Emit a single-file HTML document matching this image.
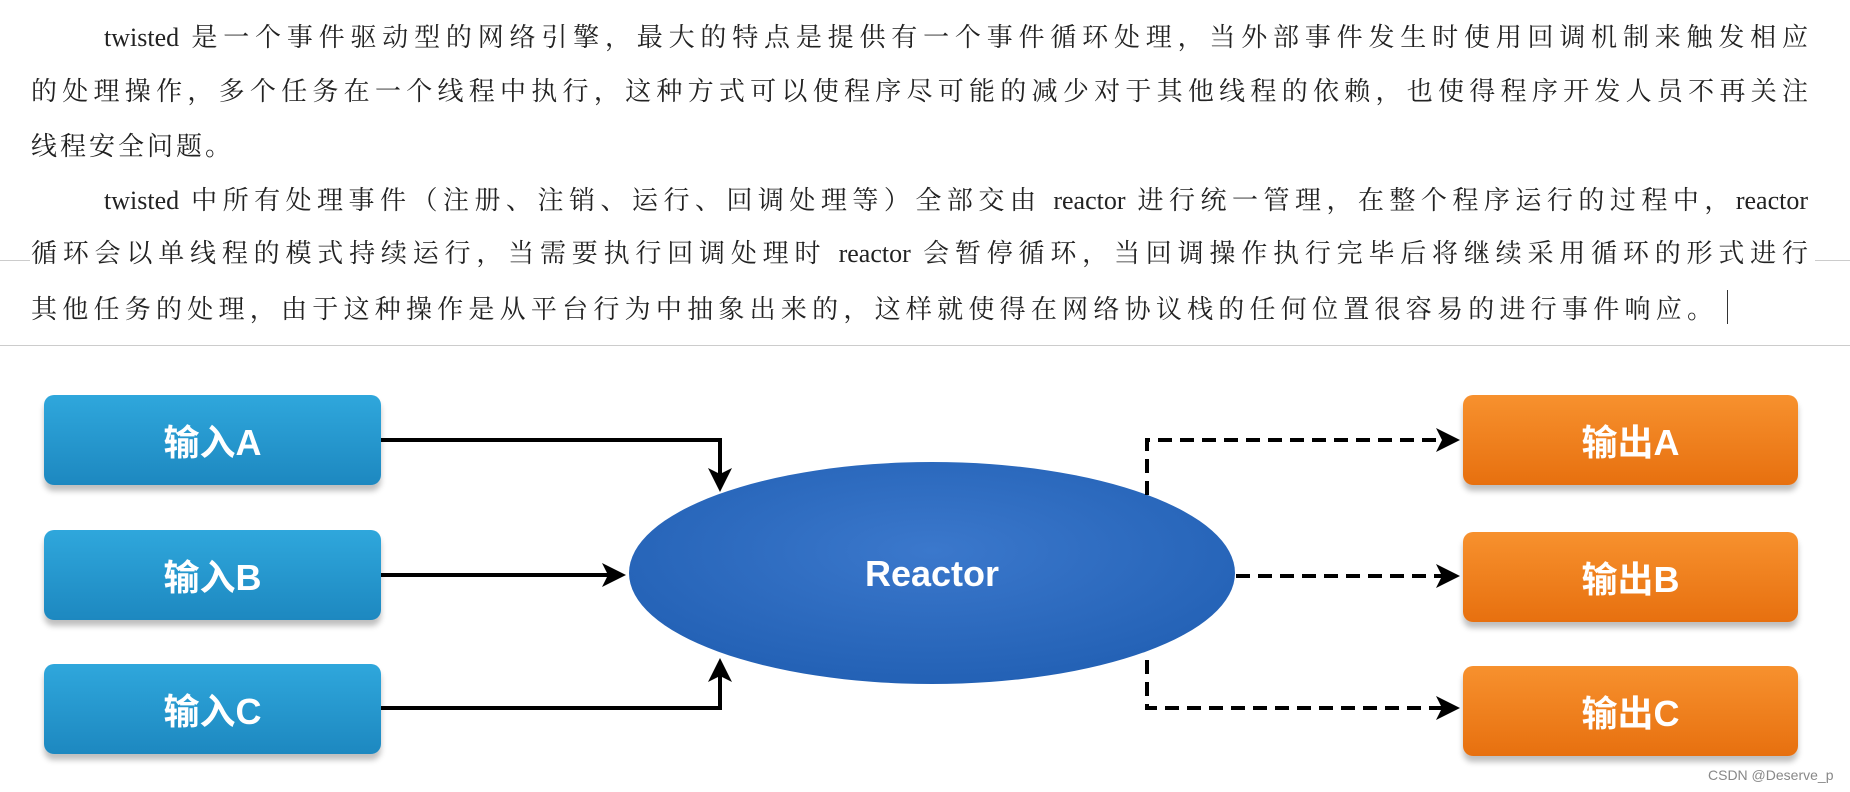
<!DOCTYPE html>
<html><head><meta charset="utf-8"><style>
body{margin:0;width:1850px;height:792px;background:#fff;position:relative;overflow:hidden;font-family:"Liberation Serif","Noto Serif CJK SC",serif;}
.t{position:absolute;left:31px;width:1777px;font-size:26px;color:#222;white-space:nowrap;text-align:justify;text-align-last:justify;}
.box{position:absolute;border-radius:10px;color:#fff;font:bold 36px "Liberation Sans","Noto Sans CJK SC",sans-serif;display:flex;align-items:center;justify-content:center;box-shadow:0 6px 6px rgba(0,0,0,.25);}
.in{left:44px;width:337px;height:90px;background:linear-gradient(#2fa7dc,#1d88c0);}
.out{left:1463px;width:335px;height:90px;background:linear-gradient(#f7912e,#e7700f);}
</style></head><body>
<div class="t" style="top:17px;left:104px;width:1704px">twisted 是一个事件驱动型的网络引擎，最大的特点是提供有一个事件循环处理，当外部事件发生时使用回调机制来触发相应</div>
<div class="t" style="top:71px">的处理操作，多个任务在一个线程中执行，这种方式可以使程序尽可能的减少对于其他线程的依赖，也使得程序开发人员不再关注</div>
<div class="t" style="top:126px;width:200px">线程安全问题。</div>
<div class="t" style="top:180px;left:104px;width:1704px">twisted 中所有处理事件（注册、注销、运行、回调处理等）全部交由 reactor 进行统一管理，在整个程序运行的过程中，reactor</div>
<div class="t" style="top:233px">循环会以单线程的模式持续运行，当需要执行回调处理时 reactor 会暂停循环，当回调操作执行完毕后将继续采用循环的形式进行</div>
<div class="t" style="top:289px;width:1682px">其他任务的处理，由于这种操作是从平台行为中抽象出来的，这样就使得在网络协议栈的任何位置很容易的进行事件响应。</div>
<div style="position:absolute;left:1727px;top:290px;width:1px;height:34px;background:#333"></div>
<div style="position:absolute;left:0;top:345px;width:1850px;height:1px;background:#ccc"></div>
<div style="position:absolute;left:0;top:260px;width:30px;height:1px;background:#ccc"></div>
<div style="position:absolute;left:1815px;top:260px;width:35px;height:1px;background:#ccc"></div>
<div class="box in" style="top:395px">输入A</div>
<div class="box in" style="top:530px">输入B</div>
<div class="box in" style="top:664px">输入C</div>
<div class="box out" style="top:395px">输出A</div>
<div class="box out" style="top:532px">输出B</div>
<div class="box out" style="top:666px">输出C</div>
<svg width="1850" height="792" style="position:absolute;left:0;top:0">
<defs><radialGradient id="g" cx="50%" cy="40%" r="60%"><stop offset="0" stop-color="#3b78cc"/><stop offset="1" stop-color="#2361b5"/></radialGradient>
<marker id="a" markerWidth="6" markerHeight="6" refX="5" refY="3" orient="auto" markerUnits="strokeWidth"><path d="M0,0 L6,3 L0,6 L1.5,3z" fill="#000"/></marker></defs>
<ellipse cx="932" cy="573" rx="303" ry="111" fill="url(#g)"/>
<text x="932" y="586" text-anchor="middle" fill="#fff" font-family="Liberation Sans,sans-serif" font-weight="bold" font-size="36">Reactor</text>
<g stroke="#000" stroke-width="4" fill="none">
<polyline points="381,440 720,440 720,488" marker-end="url(#a)"/>
<polyline points="381,575 622,575" marker-end="url(#a)"/>
<polyline points="381,708 720,708 720,662" marker-end="url(#a)"/>
<g stroke-dasharray="14,8">
<polyline points="1147,495 1147,440 1456,440" marker-end="url(#a)"/>
<polyline points="1236,576 1456,576" marker-end="url(#a)"/>
<polyline points="1147,660 1147,708 1456,708" marker-end="url(#a)"/>
</g></g>
<text x="1708" y="780" fill="#888" font-family="Liberation Sans,sans-serif" font-size="14">CSDN @Deserve_p</text>
</svg>
</body></html>
